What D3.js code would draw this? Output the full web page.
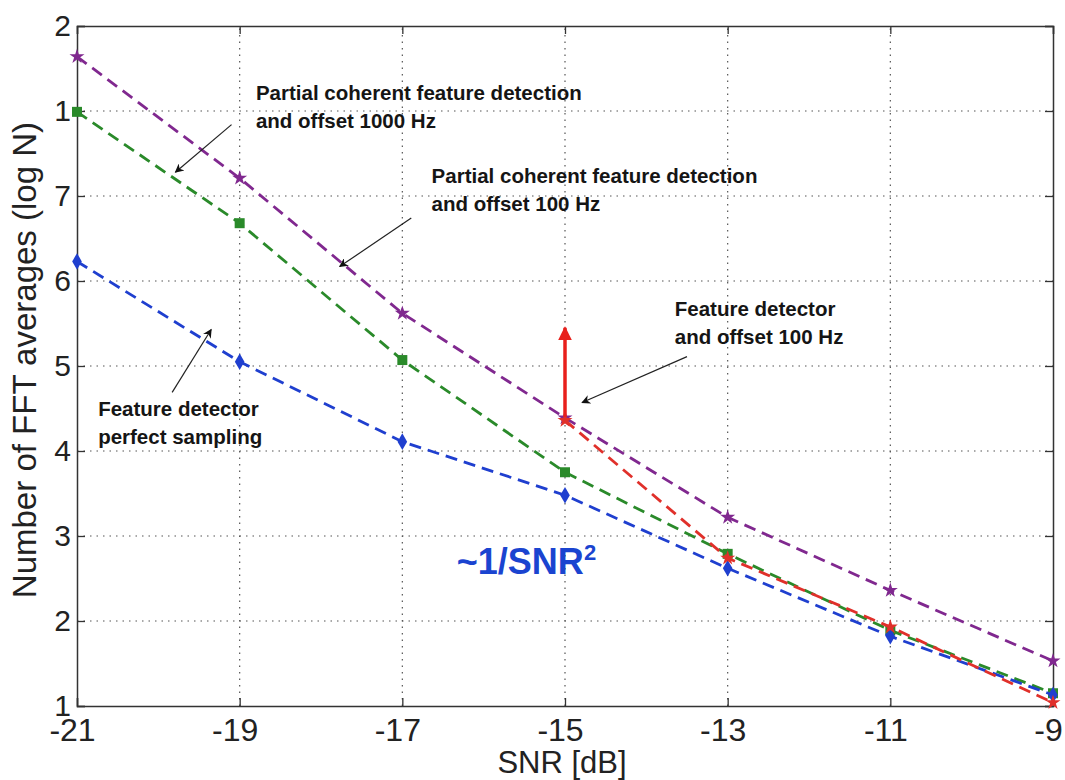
<!DOCTYPE html>
<html>
<head>
<meta charset="utf-8">
<script src="https://cdn.jsdelivr.net/npm/d3@7"></script>
<style>
  body { margin: 0; background: #fff; }
  svg { display: block; font-family: "Liberation Sans", Arial, sans-serif; }
</style>
</head>
<body>
<svg id="chart" width="1065" height="780"></svg>
<script>
// SNR grid (dB)
const snr = [-21, -19, -17, -15, -13, -11, -9];

// Number of FFT averages (log N) per detector
const partialCoherent1000 = [8.64, 7.21, 5.62, 4.39, 3.22, 2.36, 1.53];
const partialCoherent100  = [7.99, 6.68, 5.07, 3.75, 2.79, 1.89, 1.15];
const perfectSampling     = [6.23, 5.05, 4.11, 3.48, 2.62, 1.82, 1.13];
const featureOffset100Snr = [-15, -13, -11, -9];
const featureOffset100    = [4.36, 2.74, 1.93, 1.04];

// Vertical jump at -15 dB for the offset feature detector
const jumpSnr = -15;
const jumpFrom = 4.40;
const jumpTo = 5.45;

// Axis ticks
const xTicks = [-21, -19, -17, -15, -13, -11, -9];
const yTicks = [1, 2, 3, 4, 5, 6, 7, 8, 9];
const yTickLabels = ["1", "2", "3", "4", "5", "6", "7", "1", "2"];

const svg = d3.select("#chart");
const margin = { left: 77, right: 12, top: 26, bottom: 74 };
const W = 1065, H = 780;

const x = d3.scaleLinear().domain([-21, -9]).range([margin.left, W - margin.right]);
const y = d3.scaleLinear().domain([1, 9]).range([H - margin.bottom, margin.top]);

// Dotted grid
const grid = svg.append("g");
grid.selectAll("line.gx").data(xTicks.slice(1, -1)).enter().append("line")
  .attr("x1", d => x(d)).attr("x2", d => x(d))
  .attr("y1", y(1)).attr("y2", y(9))
  .attr("stroke", "#555").attr("stroke-width", 1.2).attr("stroke-dasharray", "1.5,5");
grid.selectAll("line.gy").data(yTicks.slice(1, -1)).enter().append("line")
  .attr("x1", x(-21)).attr("x2", x(-9))
  .attr("y1", d => y(d)).attr("y2", d => y(d))
  .attr("stroke", "#555").attr("stroke-width", 1.2).attr("stroke-dasharray", "1.5,5");

// Axes frame
const xAxis = d3.axisBottom(x).tickValues(xTicks).tickSize(-8).tickPadding(12).tickFormat(d => String(d));
const yAxis = d3.axisLeft(y).tickValues(yTicks).tickSize(-8).tickPadding(6).tickFormat((d, i) => yTickLabels[i]);

const gx = svg.append("g").attr("transform", `translate(0,${y(1)})`).call(xAxis);
const gy = svg.append("g").attr("transform", `translate(${x(-21)},0)`).call(yAxis);
[gx, gy].forEach(g => {
  g.select(".domain").attr("stroke", "#333").attr("stroke-width", 1.5);
  g.selectAll(".tick line").attr("stroke", "#333").attr("stroke-width", 1.3);
  g.selectAll(".tick text").attr("fill", "#222")
    .style("font-family", "'Liberation Sans', Arial, sans-serif");
});
gx.selectAll(".tick text").style("font-size", "32px").attr("dx", -5);
gy.selectAll(".tick text").style("font-size", "30px");

// Top and right ticks
svg.append("g").attr("transform", `translate(0,${y(9)})`)
  .call(d3.axisTop(x).tickValues(xTicks).tickSize(-8).tickFormat(""))
  .call(g => { g.select(".domain").attr("stroke", "#333").attr("stroke-width", 1.5);
               g.selectAll(".tick line").attr("stroke", "#333").attr("stroke-width", 1.3); });
svg.append("g").attr("transform", `translate(${x(-9)},0)`)
  .call(d3.axisRight(y).tickValues(yTicks).tickSize(-8).tickFormat(""))
  .call(g => { g.select(".domain").attr("stroke", "#333").attr("stroke-width", 1.5);
               g.selectAll(".tick line").attr("stroke", "#333").attr("stroke-width", 1.3); });

// Axis titles
svg.append("text").attr("x", 562).attr("y", 773).attr("text-anchor", "middle")
  .attr("fill", "#222").style("font-size", "31px").text("SNR [dB]");
svg.append("text").attr("transform", `translate(36,${y(5.07)}) rotate(-90)`).attr("text-anchor", "middle")
  .attr("fill", "#222").style("font-size", "33px").text("Number of FFT averages (log N)");

// Series lines
const line = d3.line().x(d => x(d[0])).y(d => y(d[1]));
const series = [
  { xs: snr, ys: partialCoherent1000, color: "#80288f", marker: "star" },
  { xs: snr, ys: partialCoherent100, color: "#2a8a2a", marker: "square" },
  { xs: snr, ys: perfectSampling, color: "#1f3fcf", marker: "diamond" },
  { xs: featureOffset100Snr, ys: featureOffset100, color: "#e0302a", marker: "star" }
];

series.forEach(s => {
  const pts = s.xs.map((v, i) => [v, s.ys[i]]);
  svg.append("path").datum(pts).attr("d", line)
    .attr("fill", "none").attr("stroke", s.color).attr("stroke-width", 2.8)
    .attr("stroke-dasharray", "12,7");
  const sym = s.marker === "square" ? d3.symbolSquare
            : s.marker === "diamond" ? d3.symbolDiamond : d3.symbolStar;
  const size = s.marker === "square" ? 100 : s.marker === "diamond" ? 80 : 70;
  svg.append("g").selectAll("path").data(pts).enter().append("path")
    .attr("transform", d => `translate(${x(d[0])},${y(d[1])})`)
    .attr("d", d3.symbol().type(sym).size(size))
    .attr("fill", s.color);
});

// Red jump arrow
const defs = svg.append("defs");
defs.append("marker").attr("id", "redHead")
  .attr("viewBox", "0 0 10 10").attr("refX", 9).attr("refY", 5)
  .attr("markerWidth", 4).attr("markerHeight", 5).attr("orient", "auto")
  .append("path").attr("d", "M0,0 L10,5 L0,10 Z").attr("fill", "#e8201c");
svg.append("line")
  .attr("x1", x(jumpSnr)).attr("x2", x(jumpSnr))
  .attr("y1", y(jumpFrom)).attr("y2", y(jumpTo))
  .attr("stroke", "#e8201c").attr("stroke-width", 3.5)
  .attr("marker-end", "url(#redHead)");

// Black annotation arrows
defs.append("marker").attr("id", "blackHead")
  .attr("viewBox", "0 0 10 10").attr("refX", 9).attr("refY", 5)
  .attr("markerWidth", 13).attr("markerHeight", 9).attr("orient", "auto")
  .attr("markerUnits", "userSpaceOnUse")
  .append("path").attr("d", "M0,0 L10,5 L0,10 L3,5 Z").attr("fill", "#111");

const arrows = [
  { from: [-19.10, 7.84], to: [-19.79, 7.28] },
  { from: [-16.89, 6.74], to: [-17.77, 6.17] },
  { from: [-13.50, 5.11], to: [-14.79, 4.57] },
  { from: [-19.83, 4.69], to: [-19.35, 5.43] }
];
arrows.forEach(a => {
  svg.append("line")
    .attr("x1", x(a.from[0])).attr("y1", y(a.from[1]))
    .attr("x2", x(a.to[0])).attr("y2", y(a.to[1]))
    .attr("stroke", "#222").attr("stroke-width", 1.2)
    .attr("marker-end", "url(#blackHead)");
});

// Text annotations
const notes = [
  { at: [-18.80, 8.13], lines: ["Partial coherent feature detection", "and offset 1000 Hz"] },
  { at: [-16.64, 7.15], lines: ["Partial coherent feature detection", "and offset 100 Hz"] },
  { at: [-13.65, 5.59], lines: ["Feature detector", "and offset 100 Hz"] },
  { at: [-20.74, 4.41], lines: ["Feature detector", "perfect sampling"] }
];
notes.forEach(n => {
  const t = svg.append("text").attr("x", x(n.at[0])).attr("y", y(n.at[1]))
    .attr("fill", "#151515").style("font-size", "20.5px").style("font-weight", "bold")
    .style("font-family", "'Liberation Sans', Arial, sans-serif");
  n.lines.forEach((l, i) => t.append("tspan").attr("x", x(n.at[0])).attr("dy", i === 0 ? 0 : 28).text(l));
});

// Scaling law label
const law = svg.append("text").attr("x", x(-16.33)).attr("y", y(2.55))
  .attr("fill", "#1a44d0").style("font-size", "36px").style("font-weight", "bold")
  .style("font-family", "'Liberation Sans', Arial, sans-serif");
law.append("tspan").text("~1/SNR");
law.append("tspan").attr("dy", -14).style("font-size", "22px").text("2");
</script>
</body>
</html>
